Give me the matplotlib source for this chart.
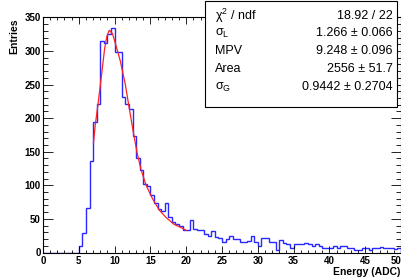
import numpy as np
import matplotlib
matplotlib.use("Agg")
from matplotlib import pyplot as plt
from matplotlib.patches import Rectangle
from matplotlib.ticker import MultipleLocator

plt.rcParams["mathtext.default"] = "regular"

# histogram: 100 bins of 0.5 ADC from 0 to 50
edges = np.arange(0, 50.5, 0.5)
counts = [0, 0, 0, 0, 0, 0, 0, 0, 0, 0,
          9, 29, 67, 137, 195, 221, 315, 312, 326, 334,
          299, 298, 232, 221, 214, 173, 140, 123, 102, 99,
          86, 73, 65, 62, 74, 53, 45, 43, 40, 33,
          33, 49, 35, 34, 34, 28, 24, 32, 23, 22,
          15, 20, 24, 20, 20, 16, 16, 17, 25, 15,
          10, 22, 21, 16, 16, 4, 19, 14, 12, 7,
          12, 12, 13, 14, 13, 9, 12, 9, 7, 7,
          7, 9, 6, 9, 9, 6, 7, 4, 4, 7,
          7, 4, 7, 7, 8, 7, 6, 7, 5, 6]

# fitted Landau*Gauss curve
fit_x = [7.05, 7.3, 7.7, 8.15, 8.6, 8.9, 9.25, 9.7, 10.2, 10.8, 11.5,
         12.2, 12.7, 13.15, 13.7, 14.4, 15.3, 16.25, 17.2, 18.3, 19.3, 20.0]
fit_y = [163, 190, 222, 262, 303, 321, 331, 326, 308, 285, 250,
         205, 174, 148, 123, 100, 80, 63, 52, 42, 37, 33]

x_ticks = [0, 5, 10, 15, 20, 25, 30, 35, 40, 45, 50]
stat_names = ["χ$^{2}$ / ndf", "σ$_{L}$", "MPV", "Area", "σ$_{G}$"]
stat_values = ["18.92 / 22", "1.266 ± 0.066", "9.248 ± 0.096",
               "2556 ± 51.7", "0.9442 ± 0.2704"]

W, H = 401, 278
fig = plt.figure(figsize=(W / 100, H / 100), dpi=100)
ax = fig.add_axes([43 / W, 25.5 / H, 358 / W, 235.5 / H])

ax.stairs(counts, edges, color="#2828ff", lw=1.0, baseline=0)
ax.plot(fit_x, fit_y, color="#ff2020", lw=0.9)

ax.set_xlim(0, 50)
ax.set_ylim(0, 350.7)
ax.set_xticks(x_ticks)
ax.set_xticklabels([str(t) for t in x_ticks])
ax.xaxis.set_minor_locator(MultipleLocator(1))
ax.yaxis.set_major_locator(MultipleLocator(50))
ax.yaxis.set_minor_locator(MultipleLocator(10))
ax.tick_params(axis="both", which="both", direction="in", top=True, right=True, width=0.6)
ax.tick_params(axis="x", which="major", length=5, pad=2.5)
ax.tick_params(axis="x", which="minor", length=2.5)
ax.tick_params(axis="y", which="major", length=7, pad=1.5)
ax.tick_params(axis="y", which="minor", length=3.5)
for lab in ax.get_xticklabels() + ax.get_yticklabels():
    lab.set_family("Liberation Sans")
    lab.set_fontweight("bold")
    lab.set_fontsize(7)
ax.get_xticklabels()[-1].set_horizontalalignment("right")
for s in ax.spines.values():
    s.set_linewidth(0.8)

fig.text(14 / W, 1 - 18 / H, "Entries", rotation=90, ha="center", va="top",
         family="Liberation Sans", fontweight="bold", fontsize=7.5)
fig.text(400 / W, 1 - 272 / H, "Energy (ADC)", ha="right", va="center",
         family="Liberation Sans", fontweight="bold", fontsize=7.5)

# stats box
bx0, bx1, by0, by1 = 205 / W, 397 / W, 1 - 107 / H, 1 - 1 / H
fig.add_artist(Rectangle((bx0, by0), bx1 - bx0, by1 - by0, transform=fig.transFigure,
                         facecolor="white", edgecolor="black", lw=0.8, zorder=10))
row_y = [16, 33, 51, 69, 87]
for name, val, yy in zip(stat_names, stat_values, row_y):
    fig.text(215 / W, 1 - yy / H, name, ha="left", va="center", fontsize=9,
             family="Liberation Sans", zorder=11)
    fig.text(393 / W, 1 - yy / H, val, ha="right", va="center", fontsize=9,
             family="Liberation Sans", zorder=11)

fig.savefig("out.png", dpi=100)
